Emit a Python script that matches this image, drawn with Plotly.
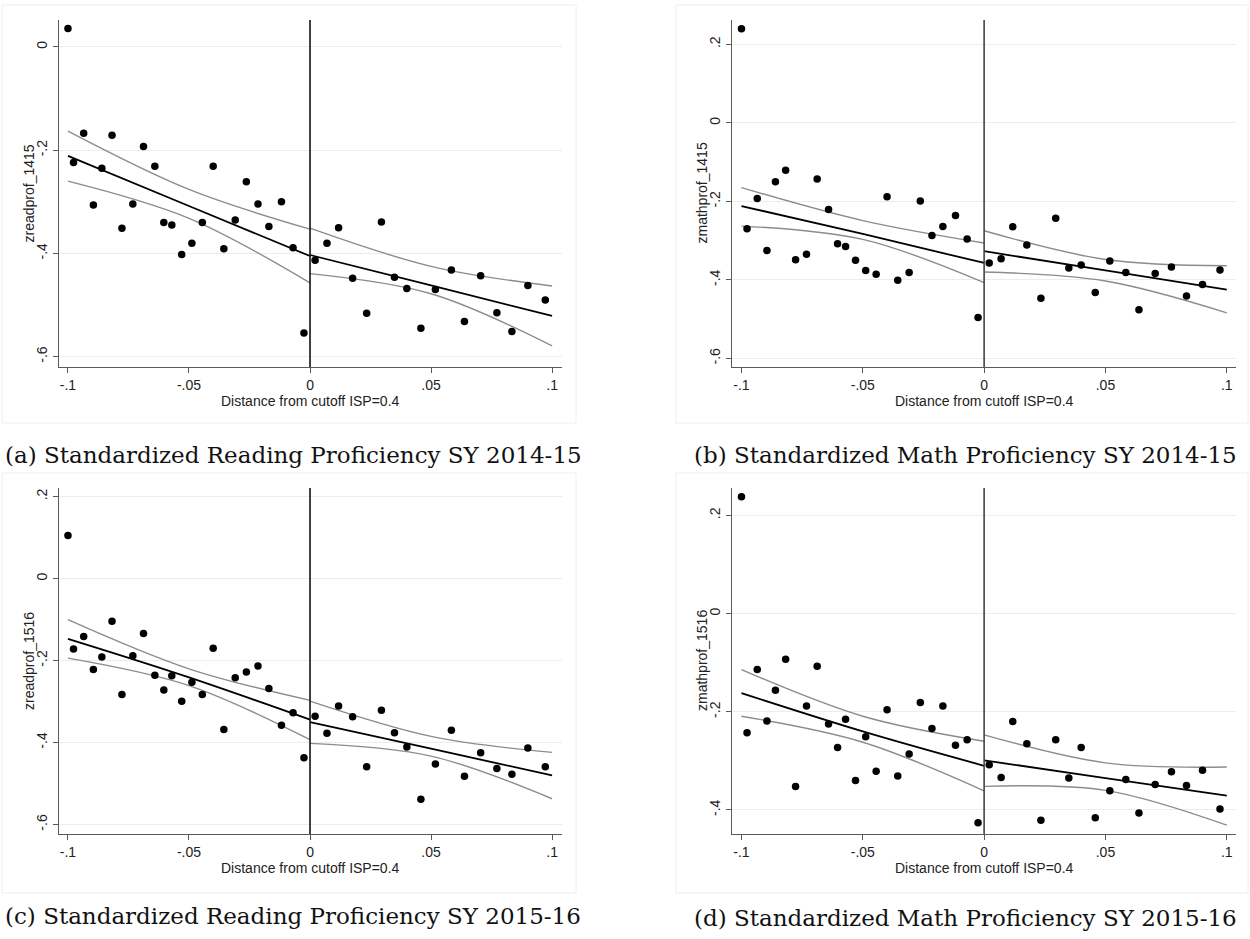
import plotly.graph_objects as go

# ---------------------------------------------------------------
# Binned means of standardized proficiency around the ISP cutoff
# ---------------------------------------------------------------
bin_left = [-0.1, -0.0977, -0.0935, -0.0895, -0.0860, -0.0818, -0.0777, -0.0732,
            -0.0688, -0.0641, -0.0604, -0.0571, -0.0530, -0.0488, -0.0445, -0.0400,
            -0.0356, -0.0309, -0.0263, -0.0215, -0.0170, -0.0118, -0.0070, -0.0025]
bin_right = [0.0021, 0.0070, 0.0118, 0.0176, 0.0234, 0.0295, 0.0349, 0.0400, 0.0458,
             0.0518, 0.0584, 0.0638, 0.0705, 0.0772, 0.0834, 0.0900, 0.0972]

# (a) reading 2014-15
read1415_left = [0.036, -0.224, -0.167, -0.306, -0.235, -0.171, -0.351, -0.304, -0.193,
                 -0.231, -0.340, -0.345, -0.402, -0.380, -0.340, -0.231, -0.391, -0.335,
                 -0.261, -0.304, -0.348, -0.300, -0.389, -0.554]
read1415_right = [-0.413, -0.380, -0.350, -0.448, -0.516, -0.339, -0.446, -0.468, -0.545,
                  -0.470, -0.432, -0.532, -0.443, -0.515, -0.551, -0.462, -0.490]
# (b) math 2014-15
math1415_left = [0.240, -0.270, -0.193, -0.325, -0.150, -0.121, -0.349, -0.335, -0.143,
                 -0.221, -0.308, -0.315, -0.350, -0.376, -0.386, -0.188, -0.401, -0.381,
                 -0.199, -0.287, -0.264, -0.236, -0.296, -0.496]
math1415_right = [-0.357, -0.346, -0.265, -0.311, -0.447, -0.243, -0.370, -0.362, -0.432,
                  -0.352, -0.381, -0.476, -0.384, -0.367, -0.441, -0.412, -0.375]
# (c) reading 2015-16
read1516_left = [0.105, -0.172, -0.141, -0.222, -0.191, -0.104, -0.283, -0.188, -0.134,
                 -0.236, -0.272, -0.237, -0.299, -0.253, -0.283, -0.170, -0.368, -0.242,
                 -0.228, -0.213, -0.268, -0.358, -0.327, -0.437]
read1516_right = [-0.336, -0.377, -0.311, -0.337, -0.459, -0.321, -0.376, -0.411, -0.538,
                  -0.452, -0.370, -0.482, -0.425, -0.463, -0.477, -0.413, -0.459]
# (d) math 2015-16
math1516_left = [0.238, -0.2425, -0.114, -0.219, -0.156, -0.093, -0.352, -0.188, -0.107,
                 -0.225, -0.273, -0.215, -0.340, -0.251, -0.321, -0.196, -0.331, -0.286,
                 -0.181, -0.234, -0.188, -0.268, -0.257, -0.426]
math1516_right = [-0.308, -0.334, -0.220, -0.265, -0.421, -0.257, -0.335, -0.273, -0.416,
                  -0.361, -0.338, -0.406, -0.348, -0.322, -0.350, -0.319, -0.398]

# Fitted line and 95% CI, evaluated at the ends and midpoint of each side
fit_x_left = [-0.1, -0.05, 0.0]
fit_x_right = [0.0, 0.05, 0.1]

read1415_fit = {"left": [-0.211, -0.308, -0.405], "left_hi": [-0.163, -0.276, -0.353],
                "left_lo": [-0.260, -0.332, -0.457],
                "right": [-0.403, -0.462, -0.521], "right_hi": [-0.351, -0.425, -0.463],
                "right_lo": [-0.439, -0.478, -0.579]}
math1415_fit = {"left": [-0.212, -0.283, -0.357], "left_hi": [-0.165, -0.249, -0.306],
                "left_lo": [-0.263, -0.297, -0.407],
                "right": [-0.327, -0.376, -0.425], "right_hi": [-0.275, -0.348, -0.364],
                "right_lo": [-0.380, -0.403, -0.484]}
read1516_fit = {"left": [-0.147, -0.241, -0.344], "left_hi": [-0.100, -0.220, -0.297],
                "left_lo": [-0.194, -0.261, -0.393],
                "right": [-0.350, -0.415, -0.480], "right_hi": [-0.299, -0.385, -0.424],
                "right_lo": [-0.402, -0.433, -0.537]}
math1516_fit = {"left": [-0.162, -0.240, -0.310], "left_hi": [-0.114, -0.209, -0.260],
                "left_lo": [-0.209, -0.262, -0.361],
                "right": [-0.299, -0.335, -0.371], "right_hi": [-0.247, -0.304, -0.3125],
                "right_lo": [-0.352, -0.360, -0.431]}

x_tickvals = [-0.1, -0.05, 0, 0.05, 0.1]
x_ticktext = ["-.1", "-.05", "0", ".05", ".1"]

y_ticks_a = [0, -0.2, -0.4, -0.6]
y_ticks_b = [0.2, 0, -0.2, -0.4, -0.6]
y_ticks_c = [0.2, 0, -0.2, -0.4, -0.6]
y_ticks_d = [0.2, 0, -0.2, -0.4]

y_titles = ["zreadprof_1415", "zmathprof_1415", "zreadprof_1516", "zmathprof_1516"]
x_title = "Distance from cutoff ISP=0.4"
captions = ["(a) Standardized Reading Proficiency SY 2014-15",
            "(b) Standardized Math Proficiency SY 2014-15",
            "(c) Standardized Reading Proficiency SY 2015-16",
            "(d) Standardized Math Proficiency SY 2015-16"]

# ---------------------------------------------------------------
W, H = 1250, 939

def px(x):
    return x / W

def py(y):
    return 1 - y / H

def tick_label(v):
    if v == 0:
        return "0"
    s = f"{v:.1f}"
    return s.replace("0.", ".")

panels = [
    dict(left=read1415_left, right=read1415_right, fit=read1415_fit, yt=y_ticks_a,
         box=(59, 20, 562, 367), xr=[-0.1037, 0.1041], yr=[-0.620, 0.0523],
         frame=(2, 5, 576, 423), cap=(3, 455), vcol="#111111"),
    dict(left=math1415_left, right=math1415_right, fit=math1415_fit, yt=y_ticks_b,
         box=(732, 20, 1236, 367), xr=[-0.1039, 0.1038], yr=[-0.622, 0.262],
         frame=(676, 5, 1248, 423), cap=(692, 455), vcol="#444444"),
    dict(left=read1516_left, right=read1516_right, fit=read1516_fit, yt=y_ticks_c,
         box=(59, 488, 562, 834), xr=[-0.1037, 0.1041], yr=[-0.623, 0.221],
         frame=(2, 473, 576, 893), cap=(3, 916), vcol="#111111"),
    dict(left=math1516_left, right=math1516_right, fit=math1516_fit, yt=y_ticks_d,
         box=(732, 488, 1236, 834), xr=[-0.1039, 0.1038], yr=[-0.449, 0.256],
         frame=(676, 473, 1248, 893), cap=(692, 918), vcol="#444444"),
]

fig = go.Figure()
shapes = []
annotations = []
AX_COL = "#5a5a5a"
GRID_COL = "#e6eff0"
TICK_FONT = dict(family="Liberation Sans, Arial, sans-serif", size=14, color="#222222")

for i, p in enumerate(panels):
    n = "" if i == 0 else str(i + 1)
    xa, ya = "x" + n, "y" + n
    x0, y0, x1, y1 = p["box"]

    # faint outer frame of each graph
    fx0, fy0, fx1, fy1 = p["frame"]
    shapes.append(dict(type="rect", xref="paper", yref="paper", x0=px(fx0), x1=px(fx1),
                       y0=py(fy1), y1=py(fy0), line=dict(color="#eeeeee", width=1),
                       layer="below"))

    ci_style = dict(color="#8c8c8c", width=1.4, shape="spline")
    fit_style = dict(color="#000000", width=1.8, shape="spline")
    for side, fx in (("left", fit_x_left), ("right", fit_x_right)):
        for key, style in ((side + "_hi", ci_style), (side + "_lo", ci_style),
                           (side, fit_style)):
            fig.add_trace(go.Scatter(x=fx, y=p["fit"][key], mode="lines", line=style,
                                     xaxis=xa, yaxis=ya, showlegend=False,
                                     hoverinfo="skip"))

    fig.add_trace(go.Scatter(x=bin_left + bin_right, y=p["left"] + p["right"],
                             mode="markers", marker=dict(color="black", size=7.5),
                             xaxis=xa, yaxis=ya, showlegend=False))

    # cutoff line
    shapes.append(dict(type="line", xref=xa, yref=ya + " domain", x0=0, x1=0, y0=0, y1=1,
                       line=dict(color=p["vcol"], width=1.6), layer="above"))

    xkey = "xaxis" + n
    ykey = "yaxis" + n
    fig.layout[xkey] = dict(domain=[px(x0), px(x1)], anchor=ya, range=p["xr"],
                            tickvals=x_tickvals, ticktext=x_ticktext, ticks="outside",
                            ticklen=5, tickwidth=1.2, tickcolor=AX_COL, showline=True,
                            linecolor=AX_COL, linewidth=1.4, showgrid=False,
                            zeroline=False, tickfont=TICK_FONT, fixedrange=True)
    fig.layout[ykey] = dict(domain=[py(y1), py(y0)], anchor=xa, range=p["yr"],
                            tickvals=p["yt"], ticktext=[tick_label(v) for v in p["yt"]],
                            ticks="outside", ticklen=5, tickwidth=1.2, tickcolor=AX_COL,
                            showline=True, linecolor=AX_COL, linewidth=1.4,
                            showgrid=True, gridcolor=GRID_COL, gridwidth=1.2,
                            zeroline=False, tickangle=-90, tickfont=TICK_FONT,
                            fixedrange=True)

    # axis titles
    annotations.append(dict(text=x_title, xref="paper", yref="paper",
                            x=px((x0 + x1) / 2), y=py(y1 + 34), showarrow=False,
                            xanchor="center", yanchor="middle", font=TICK_FONT))
    annotations.append(dict(text=y_titles[i], xref="paper", yref="paper",
                            x=px(x0 - 30), y=py((y0 + y1) / 2), showarrow=False,
                            textangle=-90, xanchor="center", yanchor="middle",
                            font=TICK_FONT))
    # caption
    cx, cy = p["cap"]
    annotations.append(dict(text=captions[i], xref="paper", yref="paper",
                            x=px(cx), y=py(cy), showarrow=False, xanchor="left",
                            yanchor="middle",
                            font=dict(family="DejaVu Serif, serif", size=23,
                                      color="#111111")))

fig.update_layout(width=W, height=H, margin=dict(l=0, r=0, t=0, b=0),
                  paper_bgcolor="white", plot_bgcolor="white",
                  shapes=shapes, annotations=annotations, showlegend=False)

fig.write_html("out.html")
